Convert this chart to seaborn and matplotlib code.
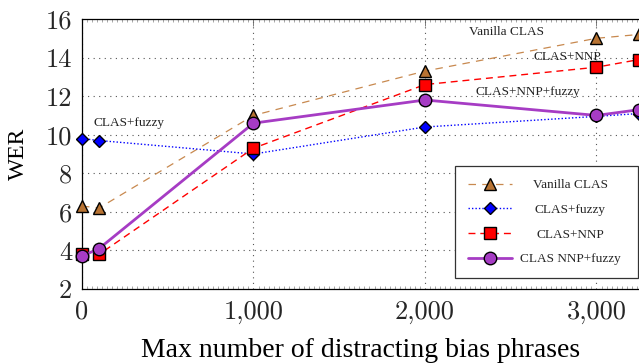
import matplotlib
matplotlib.use("Agg")
import matplotlib.pyplot as plt
import seaborn as sns
import numpy as np
from matplotlib.ticker import FuncFormatter, MultipleLocator
from matplotlib.lines import Line2D

# Data
x_vals = [0, 100, 1000, 2000, 3000, 3250]
vanilla = [6.3, 6.2, 11.0, 13.3, 15.0, 15.2]
fuzzy = [9.8, 9.7, 9.0, 10.4, 10.95, 11.1]
nnp = [3.8, 3.8, 9.3, 12.6, 13.5, 13.9]
nnp_fuzzy = [3.7, 4.1, 10.6, 11.8, 11.0, 11.3]
legend_labels = ["Vanilla CLAS", "CLAS+fuzzy", "CLAS+NNP", "CLAS NNP+fuzzy"]
x_ticks = [0, 1000, 2000, 3000]
y_ticks = [2, 4, 6, 8, 10, 12, 14, 16]

sns.set_theme(style="white")
plt.rcParams['font.family'] = ['Liberation Serif', 'DejaVu Serif']

fig = plt.figure(figsize=(6.39, 3.64), dpi=100)
ax = fig.add_axes([82/639, 75/364, 1.0 - 82/639, 270/364])

series = [
    (vanilla, dict(color="#c8894f", ls=(0, (6, 5)), lw=0.9, marker="^", mfc="#b87333", ms=8)),
    (fuzzy, dict(color="#0000ff", ls=(0, (1, 1.5)), lw=1.0, marker="D", mfc="#0000ff", ms=6.5)),
    (nnp, dict(color="#ff0000", ls=(0, (5, 3.5)), lw=1.0, marker="s", mfc="#ff0000", ms=8)),
    (nnp_fuzzy, dict(color="#a63cc4", ls="-", lw=2.0, marker="o", mfc="#a63cc4", ms=9)),
]

handles = []
for vals, st in series:
    sns.lineplot(x=x_vals, y=vals, ax=ax, color=st["color"], linestyle=st["ls"],
                 linewidth=st["lw"], marker=st["marker"], markerfacecolor=st["mfc"],
                 markeredgecolor="black", markeredgewidth=1.0, markersize=st["ms"],
                 sort=False, estimator=None, clip_on=False, zorder=3)
    handles.append(Line2D([], [], color=st["color"], linestyle=st["ls"], linewidth=st["lw"],
                          marker=st["marker"], markerfacecolor=st["mfc"],
                          markeredgecolor="black", markeredgewidth=1.0, markersize=st["ms"]))

ax.set_xlim(0, 3248)
ax.set_ylim(2, 16)
ax.set_xticks(x_ticks)
ax.set_yticks(y_ticks)
ax.xaxis.set_major_formatter(FuncFormatter(lambda v, p: f"{int(v):,}"))
ax.xaxis.set_minor_locator(MultipleLocator(1000 / 34))

ax.grid(True, which="major", color="#555555", linestyle=(0, (1, 4)), linewidth=0.8)
for s in ["left", "bottom", "top"]:
    ax.spines[s].set_color("black")
    ax.spines[s].set_linewidth(0.9)
ax.spines["right"].set_visible(False)

ax.tick_params(axis="x", which="major", direction="in", length=5, width=0.6,
               color="#666666", top=True, labelsize=19, pad=8)
ax.tick_params(axis="y", which="major", direction="in", length=5, width=0.6,
               color="#666666", labelsize=19, pad=7)
ax.tick_params(axis="x", which="minor", direction="in", length=2, width=0.4,
               color="#666666", top=True, bottom=True)
for lab in ax.get_xticklabels() + ax.get_yticklabels():
    lab.set_fontfamily("cmr10")

ax.set_xlabel("Max number of distracting bias phrases", fontfamily="Liberation Serif",
              fontsize=20, labelpad=10, color="black")
ax.set_ylabel("WER", fontfamily="Liberation Serif", fontsize=17, labelpad=12, color="black")

ann = [("Vanilla CLAS", 2478, 15.33), ("CLAS+NNP", 2828, 14.03),
       ("CLAS+NNP+fuzzy", 2601, 12.22), ("CLAS+fuzzy", 274, 10.61)]
for t, xx, yy in ann:
    ax.text(xx, yy, t, ha="center", va="center", fontsize=9.5, color="#222222")

leg = ax.legend(handles, legend_labels, loc="lower left",
                bbox_to_anchor=(373/557, 11/270, 183/557, 111/270), mode="expand",
                borderaxespad=0, frameon=True, fancybox=False, fontsize=9.5,
                handlelength=3.4, labelspacing=0.95, handletextpad=0.55, borderpad=0.95)
leg.get_frame().set_edgecolor("#333333")
leg.get_frame().set_linewidth(0.9)
leg.get_frame().set_alpha(1)

# center the legend labels within their column
fig.canvas.draw()
r = fig.canvas.get_renderer()
widths = [t.get_window_extent(r).width for t in leg.get_texts()]
wmax = max(widths)
for t, w in zip(leg.get_texts(), widths):
    t.set_x((wmax - w) / 2)

fig.savefig("out.png", dpi=100)
